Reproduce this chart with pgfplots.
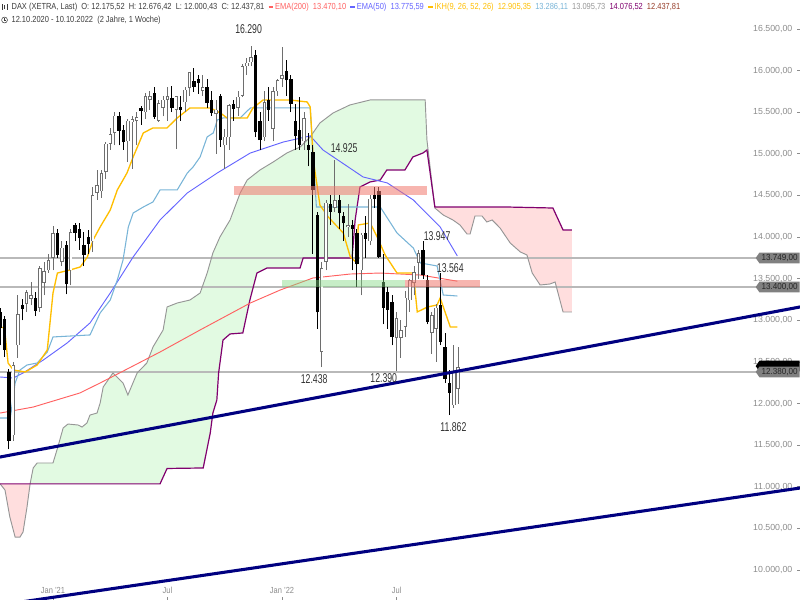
\documentclass[border=0pt]{standalone}
\usepackage{fontspec}
\setmainfont{Liberation Sans}
\usepackage{graphicx}
\usepackage{pgfplots}
\usepackage{pgfplotstable}
\pgfplotsset{compat=1.18}
\usetikzlibrary{shapes.symbols}

\definecolor{emared}{RGB}{255,96,96}
\definecolor{emablue}{RGB}{100,100,255}
\definecolor{tenkanc}{RGB}{255,190,0}
\definecolor{kijunc}{RGB}{120,180,215}
\definecolor{spanac}{RGB}{150,150,150}
\definecolor{spanbc}{RGB}{128,0,110}
\definecolor{cloudg}{RGB}{226,250,226}
\definecolor{cloudr}{RGB}{255,222,222}
\definecolor{trendc}{RGB}{0,0,128}
\definecolor{hlinec}{RGB}{185,185,185}
\definecolor{wickc}{RGB}{110,110,110}
\definecolor{ticktext}{RGB}{140,140,140}
\definecolor{annot}{RGB}{50,50,50}
\definecolor{hdr}{RGB}{60,60,60}
\definecolor{boxc}{RGB}{128,128,128}
\definecolor{rectred}{RGB}{240,120,110}
\definecolor{rectgreen}{RGB}{130,215,130}
\definecolor{chikouc}{RGB}{150,60,40}

\newcommand{\nar}[2][0.85]{\scalebox{#1}[1]{#2}}

% weekly candles, i = week index from 12.10.2020
\pgfplotstableread{
i O H L C
3 11620 12500 11550 12463
4 12700 13300 12550 13077
6 13200 13360 13100 13335
7 13260 13460 13180 13298
9 13150 13650 13100 13630
10 13450 13700 13300 13587
11 13600 13800 13570 13719
12 13750 14131 13600 14049
14 13700 13950 13650 13873
16 13600 14100 13420 14056
21 13950 14600 13820 14502
22 14530 14800 14450 14621
23 14550 14800 14470 14770
24 14780 15140 14700 15120
25 15120 15310 15050 15234
26 15250 15500 15100 15459
29 15150 15420 14900 15400
30 15380 15460 14820 15416
31 15400 15500 15100 15437
33 15500 15730 15420 15693
34 15650 15750 15530 15693
36 15400 15650 15380 15608
37 15550 15700 15450 15650
38 15650 15800 15400 15690
40 15530 15700 15060 15690
42 15620 15800 15500 15770
43 15790 15980 15700 15977
46 15760 15950 15700 15800
49 15480 15650 15000 15532
51 15100 15300 14820 15206
52 15200 15600 15050 15587
54 15550 15750 15450 15688
55 15700 16080 15680 16054
56 16050 16150 15950 16094
57 16100 16290 16050 16160
60 15200 15750 15150 15623
62 15300 15800 15150 15756
63 15750 15900 15700 15885
64 15900 16285 15800 15948
69 15150 15500 15050 15425
73 12620 13700 12438 13628
74 13700 14450 13600 14413
76 14350 14925 14300 14446
79 14120 14400 14000 14142
82 13600 14050 13300 14027
84 13950 14500 13900 14462
90 12787 13100 12390 13028
91 12790 13000 12550 12880
92 12920 13350 12800 13270
93 13240 13500 13100 13480
94 13450 13650 13300 13580
95 13690 13840 13500 13810
98 12848 13100 12600 13064
99 12900 13200 12500 13150
103 11980 12700 11950 12380
104 12175 12676 12000 12437
}\upc

\pgfplotstableread{
i O H L C
0 13100 13150 12700 12909
1 13020 13050 12560 12646
2 12380 12420 11450 11556
5 13180 13260 13000 13137
8 13270 13340 13050 13114
13 14050 14100 13750 13787
15 13900 13950 13310 13432
17 14140 14170 13950 14050
18 14100 14170 13850 13993
19 13900 14060 13650 13786
20 14000 14080 13800 13920
27 15450 15500 15100 15280
28 15290 15350 15050 15136
32 15550 15580 15350 15520
35 15730 15800 15420 15448
39 15670 15810 15500 15550
41 15560 15700 15400 15530
44 15880 16030 15740 15808
45 15900 15950 15720 15850
47 15800 15900 15550 15610
48 15650 15750 15460 15490
50 15700 15720 15080 15170
53 15600 15650 15400 15543
58 16190 16250 15200 15257
59 15400 15500 15046 15166
61 15650 15800 15400 15532
65 16000 16130 15700 15883
66 15900 15950 15500 15603
67 15400 15600 15050 15210
68 15290 15680 15050 15100
70 15100 15250 14850 15050
71 15020 15100 13800 14567
72 14265 14300 12900 13094
75 14400 14500 14150 14305
77 14450 14500 14100 14284
78 14250 14300 13950 14163
80 14140 14200 13600 14098
81 14050 14100 13400 13674
83 14050 14250 13750 13982
85 14500 14600 14350 14460
86 14550 14600 13750 13762
87 13460 13800 12950 13148
88 13340 13400 12900 13124
89 13220 13300 12700 12800
96 13845 13947 13500 13545
97 13480 13550 12950 12980
100 13184 13564 12700 12740
101 12680 12850 12250 12300
102 12247 12400 11862 12127
}\downc

\pgfplotsset{candle/.style={draw=none, no markers, forget plot,
  error bars/y dir=plus, error bars/y explicit, error bars/error mark=none,
  error bars/error bar style={#1}}}

\begin{document}
\begin{tikzpicture}
\begin{axis}[
  at={(0,0)}, anchor=south west, scale only axis,
  width=600pt, height=450pt,
  xmin=-0.034, xmax=181.6, ymin=9640, ymax=16848,
  axis x line*=bottom, axis y line*=right,
  axis line style={draw=none},
  tick align=inside, major tick length=2.5pt,
  tick style={draw=ticktext, line width=0.6pt},
  ytick={10000,10500,...,16500},
  scaled y ticks=false,
  yticklabel style={anchor=east, xshift=-2.2pt, text=ticktext,
    font=\fontsize{6.6}{7}\selectfont,
    /pgf/number format/.cd, fixed, fixed zerofill, precision=2,
    use comma, 1000 sep={.}, assume math mode=true},
  xtick={12,38,64,90},
  xticklabels={\nar[0.85]{Jan '21},\nar[0.85]{Jul},\nar[0.85]{Jan '22},\nar[0.85]{Jul}},
  xticklabel style={anchor=south, yshift=1.5pt, text=ticktext,
    font=\fontsize{6.6}{7}\selectfont},
  clip=true,
]

% ---- Ichimoku cloud fills ----
% green: span A (6.8 -> 98.7), then span B back to 6.8
\addplot[fill=cloudg, draw=none, forget plot] coordinates {
(6.8,11035) (7.5,11226) (8.4,11286) (12.0,11286) (13.1,11478) (14.3,11706)
(15.4,11754) (17.7,11742) (18.6,11718) (19.7,11766) (20.4,11862) (22.0,11886)
(22.7,12006) (23.4,12199) (25.6,12367) (27.9,12247) (29.0,12103) (31.1,12367)
(33.3,12487) (34.7,12679) (37.0,12884) (37.9,13160) (40.2,13208) (43.1,13244)
(45.4,13328) (47.0,13568) (48.3,13809) (49.9,14001) (52.2,14205) (54.5,14530)
(56.1,14686) (59.0,14806) (62.0,14902) (65.1,15010) (68.1,15082) (70.4,15203)
(72.6,15371) (75.6,15491) (79.4,15587) (84.0,15647) (96.5,15647) (96.9,15166)
(98.7,14355)
(96.9,15046) (96.0,15010) (93.7,14962) (91.9,14806) (87.8,14806) (86.3,14686)
(84.0,14662) (81.7,14602) (80.6,14205) (79.9,13749) (68.8,13749) (68.1,13629)
(60.6,13629) (58.3,13568) (56.7,13244) (55.1,12848) (52.2,12836) (50.6,12763)
(49.6,12367) (49.2,12043) (48.3,11886) (47.7,11646) (46.1,11226) (37.9,11220)
(36.3,11035) (6.8,11035)
} -- cycle;
% pink left
\addplot[fill=cloudr, draw=none, forget plot] coordinates {
(0,11035) (6.8,11035) (6.1,10757) (5.2,10457) (4.5,10396) (3.4,10396)
(2.2,10637) (1.1,10961) (0,11035)
} -- cycle;
% pink right: span B (98.7 -> 129.8), then span A back
\addplot[fill=cloudr, draw=none, forget plot] coordinates {
(98.7,14361) (115.1,14361) (125.5,14349) (127.8,14085) (129.8,14085)
(129.8,13100) (127.8,13100) (126.0,13460) (124.8,13436) (122.6,13424)
(120.8,13568) (119.6,13785) (118.1,13821) (115.8,13929) (113.5,14109)
(111.7,14205) (110.5,14181) (109.4,14253) (107.8,14253) (106.7,14037)
(106.0,14037) (104.4,14145) (102.8,14205) (100.6,14265) (98.7,14349)
} -- cycle;

% ---- horizontal levels ----
\addplot[hlinec, line width=0.95pt, forget plot] coordinates {(-1,13749) (172,13749)};
\addplot[hlinec, line width=0.95pt, forget plot] coordinates {(-1,13400) (172,13400)};
\addplot[hlinec, line width=0.95pt, forget plot] coordinates {(-1,12380) (172,12380)};

% ---- span A (gray) ----
\addplot[spanac, line width=0.7pt, forget plot] coordinates {
(0,11035) (1.1,10961) (2.2,10637) (3.4,10396) (4.5,10396) (5.2,10457)
(6.1,10757) (6.8,11035) (7.5,11226) (8.4,11286) (12.0,11286) (13.1,11478)
(14.3,11706) (15.4,11754) (17.7,11742) (18.6,11718) (19.7,11766) (20.4,11862)
(22.0,11886) (22.7,12006) (23.4,12199) (25.6,12367) (27.9,12247) (29.0,12103)
(31.1,12367) (33.3,12487) (34.7,12679) (37.0,12884) (37.9,13160) (40.2,13208)
(43.1,13244) (45.4,13328) (47.0,13568) (48.3,13809) (49.9,14001) (52.2,14205)
(54.5,14530) (56.1,14686) (59.0,14806) (62.0,14902) (65.1,15010) (68.1,15082)
(70.4,15203) (72.6,15371) (75.6,15491) (79.4,15587) (84.0,15647) (96.5,15647)
(96.9,15166) (98.7,14349) (100.6,14265) (102.8,14205) (104.4,14145)
(106.0,14037) (106.7,14037) (107.8,14253) (109.4,14253) (110.5,14181)
(111.7,14205) (113.5,14109) (115.8,13929) (118.1,13821) (119.6,13785)
(120.8,13568) (122.6,13424) (124.8,13436) (126.0,13460) (127.8,13100)
(129.8,13100)
};
% ---- span B (purple) ----
\addplot[spanbc, line width=0.9pt, forget plot] coordinates {
(0,11035) (36.3,11035) (37.9,11220) (46.1,11226) (47.7,11646) (48.3,11886)
(49.2,12043) (49.6,12367) (50.6,12763) (52.2,12836) (55.1,12848) (56.7,13244)
(58.3,13568) (60.6,13629) (68.1,13629) (68.8,13749) (79.9,13749) (80.6,14205)
(81.7,14602) (84.0,14662) (86.3,14686) (87.8,14806) (91.9,14806) (93.7,14962)
(96.0,15010) (96.9,15046) (98.7,14361) (115.1,14361) (125.5,14349)
(127.8,14085) (129.8,14085)
};

% ---- EMA 200 ----
\addplot[emared, line width=0.7pt, forget plot] coordinates {
(0,11886) (7.5,11958) (18.1,12127) (22.7,12247) (36.3,12619) (45.4,12884)
(56.8,13208) (63.6,13364) (71.0,13508) (79.5,13556) (86.3,13568) (95.4,13544)
(103.8,13470)
};
% ---- EMA 50 ----
\addplot[emablue, line width=0.7pt, forget plot] coordinates {
(0,12319) (3,12307) (5.2,12367) (9.8,12523) (15.2,12727) (20.4,12968)
(25.0,13328) (30.2,13761) (36.3,14205) (42.5,14530) (49.3,14770) (56.8,15010)
(64.3,15142) (70.4,15215) (73.3,15046) (82.4,14722) (87.9,14650) (93.8,14446)
(99.9,14121) (103.8,13773)
};
% ---- Kijun (light blue) ----
\addplot[kijunc, line width=0.8pt, forget plot] coordinates {
(0,11826) (2.3,11826) (3.4,12247) (4.5,12403) (6.1,12463) (8.4,12487)
(10.7,12619) (12.0,12800) (20.4,12824) (22.7,13088) (25.0,13244) (26.6,13484)
(27.9,13725) (29.1,14121) (30.2,14289) (32.5,14361) (34.7,14422) (36.3,14566)
(40.2,14566) (42.5,14770) (43.8,14842) (45.4,14962) (47.0,15203) (48.4,15251)
(49.3,15407) (50.6,15431) (54.5,15431) (56.8,15551) (70.4,15551) (71.8,14361)
(86.3,14361) (90.1,14049) (93.8,13869) (95.4,13689) (99.2,13653) (100.6,13304)
(103.8,13292)
};
% ---- Tenkan (yellow) ----
\addplot[tenkanc, line width=1.0pt, forget plot] coordinates {
(0,12920) (1,12908) (1.8,12487) (3,12403) (5.7,12379) (8.4,12463) (10.7,12643)
(12,13328) (13,13568) (15.9,13605) (18.2,13641) (19.8,13761) (21.1,13965)
(22.7,14121) (25,14325) (26.6,14566) (28.8,14770) (30.2,14962) (32.5,15251)
(34.7,15311) (37.9,15311) (40.2,15431) (43.1,15551) (47.7,15551) (50,15491)
(51.5,15431) (56.1,15431) (57.4,15551) (59.7,15647) (65.8,15647) (69.7,15623)
(70.4,15563) (71.1,14926) (72.6,14385) (74.5,14241) (77.9,14049) (79.5,13761)
(81,13689) (81.3,14145) (84,14169) (85.6,14001) (87.4,13785) (90.1,13568)
(93.8,13568) (94.7,13100) (97,13160) (99.2,13184) (99.9,13268) (102.2,12920)
(103.8,12920)
};

% ---- candles: wicks ----
\addplot[candle={draw=wickc, line width=0.7pt}]
  table[x=i, y=L, y error plus expr=\thisrow{H}-\thisrow{L}] {\upc};
\addplot[candle={draw=black, line width=0.7pt}]
  table[x=i, y=L, y error plus expr=\thisrow{H}-\thisrow{L}] {\downc};
% ---- candles: bodies ----
\addplot[candle={draw=wickc, line width=2.6pt}]
  table[x=i, y=O, y error plus expr=\thisrow{C}-\thisrow{O}] {\upc};
\addplot[candle={draw=white, line width=1.35pt, shorten <=0.5pt, shorten >=0.5pt}]
  table[x=i, y=O, y error plus expr=\thisrow{C}-\thisrow{O}] {\upc};
\addplot[candle={draw=black, line width=2.5pt}]
  table[x=i, y=C, y error plus expr=\thisrow{O}-\thisrow{C}] {\downc};

% ---- zones ----
\addplot[fill=rectred, fill opacity=0.55, draw=none, forget plot] coordinates {
(53.1,14506) (96.9,14506) (96.9,14614) (53.1,14614)} -- cycle;
\addplot[fill=rectgreen, fill opacity=0.45, draw=none, forget plot] coordinates {
(64.0,13400) (91.9,13400) (91.9,13484) (64.0,13484)} -- cycle;
\addplot[fill=rectred, fill opacity=0.55, draw=none, forget plot] coordinates {
(91.9,13400) (108.9,13400) (108.9,13484) (91.9,13484)} -- cycle;

% ---- trend lines ----
\addplot[trendc, line width=2.3pt, forget plot] coordinates {(-2,11338) (183,13174)};
\addplot[trendc, line width=2.3pt, forget plot] coordinates {(5,9618) (183,10996)};

% ---- annotations ----
\begin{scope}[every node/.style={font=\fontsize{9.6}{10}\selectfont, text=annot, inner sep=0pt}]
\node at (axis cs:56.4,16500) {\nar[0.68]{16.290}};
\node at (axis cs:78.1,15070) {\nar[0.68]{14.925}};
\node at (axis cs:71.3,12289) {\nar[0.68]{12.438}};
\node at (axis cs:87.1,12307) {\nar[0.68]{12.390}};
\node at (axis cs:99.2,14013) {\nar[0.68]{13.947}};
\node at (axis cs:102.2,13628) {\nar[0.68]{13.564}};
\node at (axis cs:102.9,11712) {\nar[0.68]{11.862}};
\end{scope}

\coordinate (l1) at (axis cs:181.6,13749);
\coordinate (l2) at (axis cs:181.6,13400);
\coordinate (l3) at (axis cs:181.6,12380);
\coordinate (l4) at (axis cs:181.6,12450);
\end{axis}

% ---- price label boxes on the right ----
\begin{scope}[every node/.style={signal, signal to=west, signal pointer angle=110,
   anchor=east, inner xsep=1.6pt, inner ysep=1.3pt, font=\fontsize{6.6}{7}\selectfont}]
\node[fill=boxc, text=black!85] at (l1) {\nar[0.92]{13.749,00}};
\node[fill=boxc, text=black!85] at (l2) {\nar[0.92]{13.400,00}};
\node[fill=black] at (l4) {\nar[0.92]{\phantom{12.437,81}}};
\node[fill=boxc, text=black!85] at (l3) {\nar[0.92]{12.380,00}};
\end{scope}

% ---- header ----
\begin{scope}[every node/.style={anchor=west, inner sep=0pt, font=\fontsize{6.6}{7}\selectfont, text=hdr}]
\node at (8.5pt,444.8pt) {\nar[0.85]{DAX (XETRA, Last)\ \ O: 12.175,52\ \ H: 12.676,42\ \ L: 12.000,43\ \ C: 12.437,81\ \ 
\textcolor{emared}{\rule[0.3ex]{0.6em}{0.45ex}\ EMA(200)\ \ 13.470,10}\ \ 
\textcolor{emablue}{\rule[0.3ex]{0.6em}{0.45ex}\ EMA(50)\ \ 13.775,59}\ \ 
\textcolor{tenkanc}{\rule[0.3ex]{0.6em}{0.45ex}\ IKH(9, 26, 52, 26)\ \ 12.905,35}\ \ 
\textcolor{kijunc}{13.286,11}\ \ \textcolor{spanac}{13.095,73}\ \ \textcolor{spanbc}{14.076,52}\ \ \textcolor{chikouc}{12.437,81}}};
\node at (8.5pt,435pt) {\nar[0.85]{12.10.2020 - 10.10.2022\ \ (2 Jahre, 1 Woche)}};
\end{scope}
% icons
\draw[hdr, line width=0.4pt] (3.4pt,435pt) circle (2.2pt);
\draw[hdr, line width=0.4pt] (3.4pt,436.4pt) -- (3.4pt,435pt) -- (4.6pt,435pt);
\draw[hdr, line width=0.5pt] (2pt,442.5pt) -- (2pt,447pt) (3.6pt,443.3pt) -- (3.6pt,446.5pt) (5.2pt,442.8pt) -- (5.2pt,447.3pt);

\pgfresetboundingbox
\path[use as bounding box] (0,0) rectangle (600pt,450pt);
\end{tikzpicture}
\end{document}
